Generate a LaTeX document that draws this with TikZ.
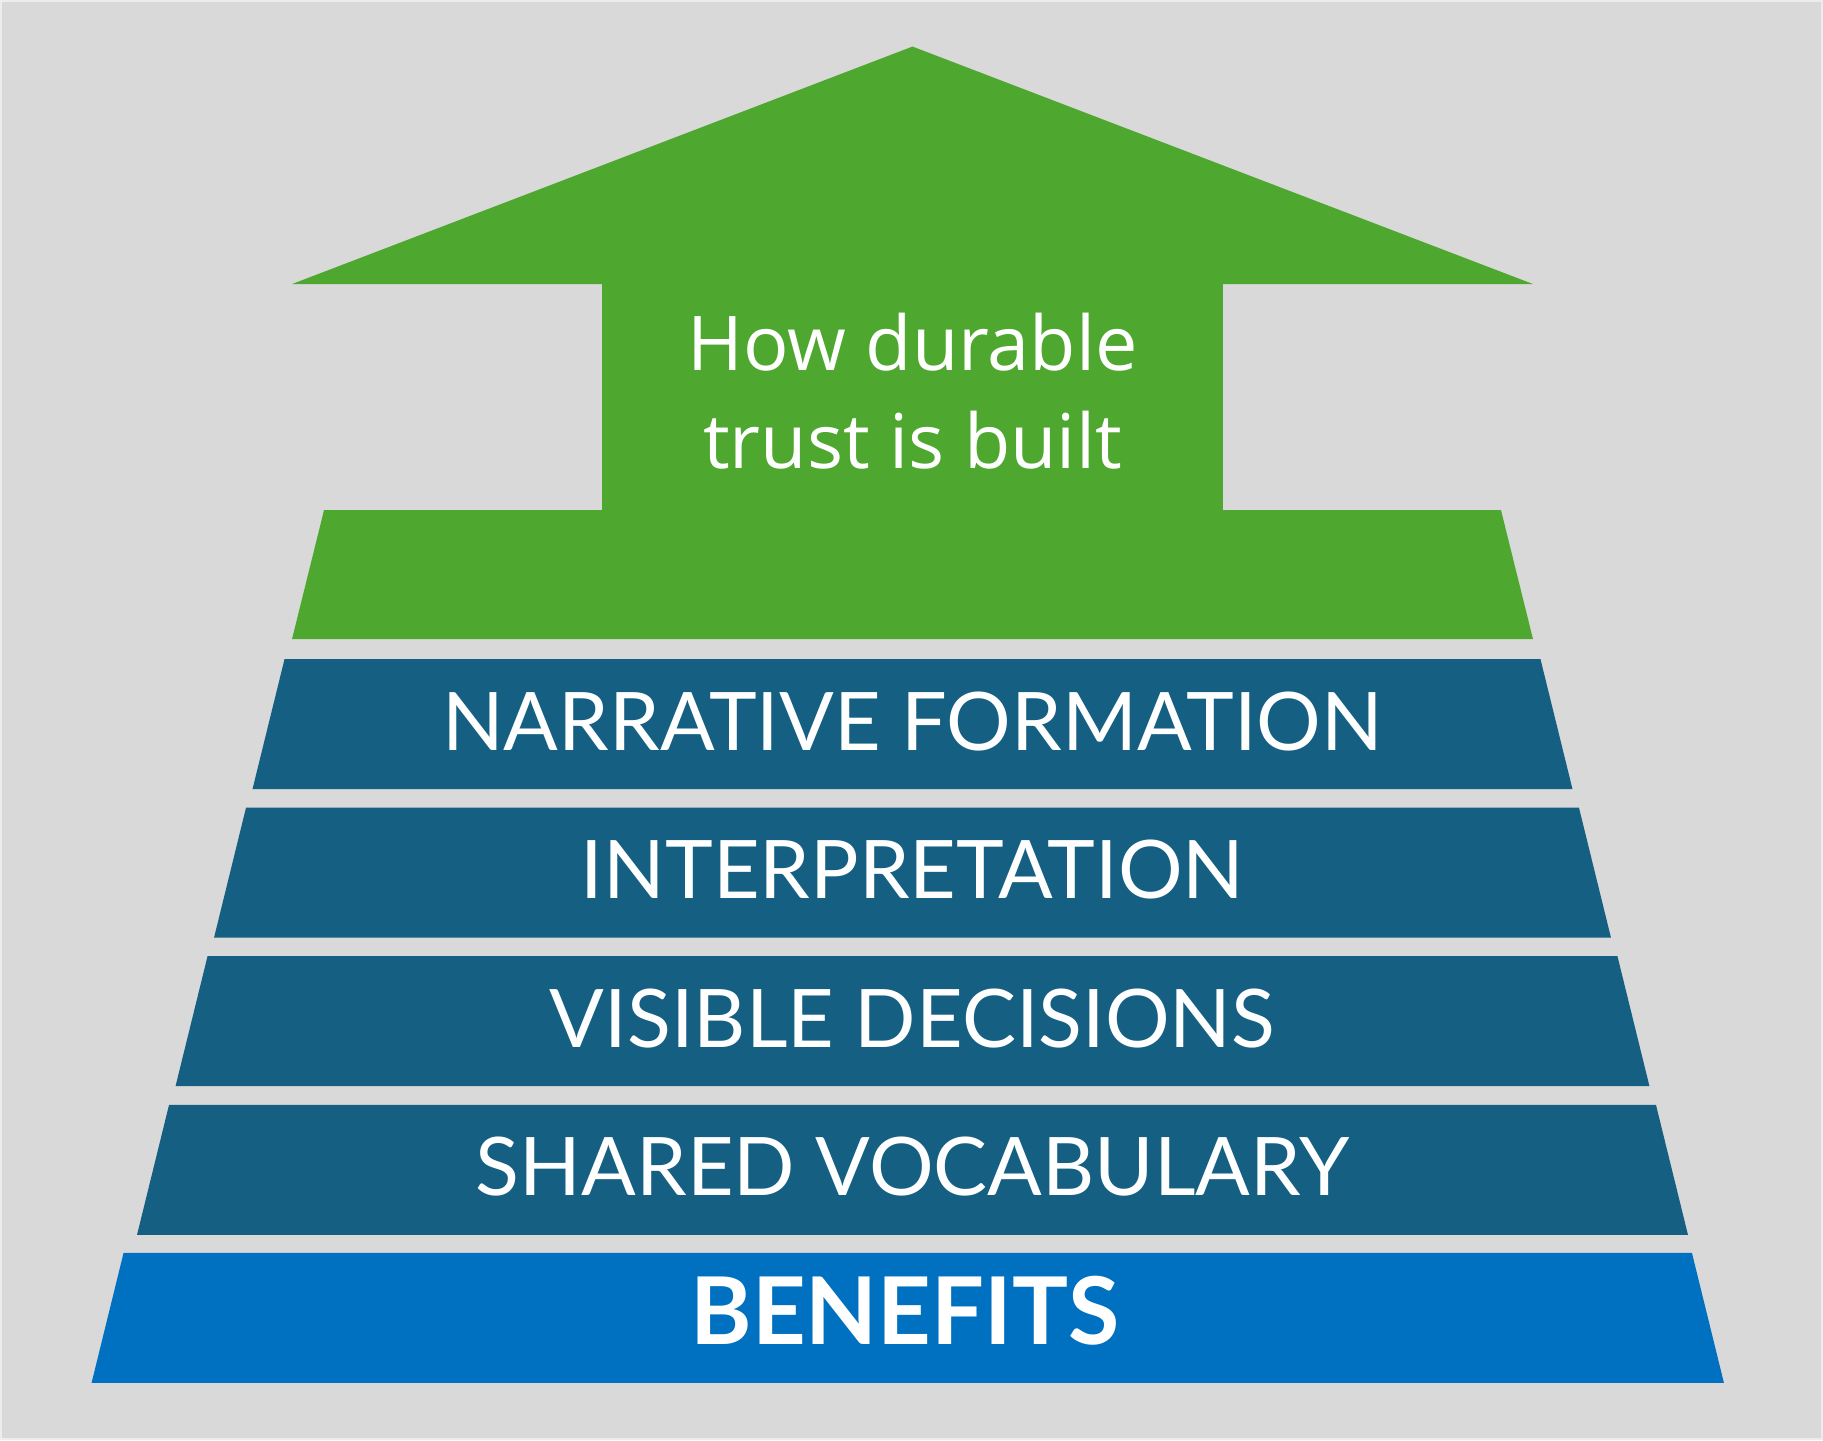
\documentclass[tikz,border=0pt]{standalone}
\usepackage{fontspec}
\usepackage{tikz}
\usetikzlibrary{positioning,calc}
\newfontfamily\bandfont{Lato}
\newfontfamily\arrowfont{Open Sans}
\definecolor{PageBG}{HTML}{D9D9D9}
\definecolor{PageEdge}{HTML}{EDEDED}
\definecolor{TrustGreen}{HTML}{4EA72E}
\definecolor{LayerTeal}{HTML}{156082}
\definecolor{BaseBlue}{HTML}{0070C0}

\begin{document}
\begin{tikzpicture}[
    layertext/.style={anchor=base,inner sep=0pt,text=white,font=\bandfont\fontsize{23}{27}\selectfont},
    arrowtext/.style={anchor=base,inner sep=0pt,text=white,font=\arrowfont\fontsize{21.5}{26}\selectfont}
  ]
  \draw[PageEdge,fill=PageBG,line width=0.6pt] (0.01,-0.01) rectangle (18.22,-14.39);
  \useasboundingbox (0,0) rectangle (18.23,-14.40);
  % arrow and its base
  \fill[TrustGreen] (9.125,-0.465) -- (15.33,-2.84) -- (12.23,-2.84) -- (12.23,-5.10)
    -- (15.01,-5.10) -- (15.33,-6.39) -- (2.92,-6.39) -- (3.24,-5.10) -- (6.02,-5.10)
    -- (6.02,-2.84) -- (2.92,-2.84) -- cycle;
  \node[arrowtext] (howline) at (9.125,-3.707) {How durable};
  \node[arrowtext] (trustline) at (9.125,-4.68) {trust is built};
  % layers
  \foreach \i/\txt in {1/NARRATIVE FORMATION,2/INTERPRETATION,3/VISIBLE DECISIONS,4/SHARED VOCABULARY} {
    \pgfmathsetmacro{\ytop}{-6.59-1.486*(\i-1)}
    \pgfmathsetmacro{\wtop}{6.28+0.385*(\i-1)}
    \fill[LayerTeal] (9.125-\wtop,\ytop) -- (9.125+\wtop,\ytop) -- (9.125+\wtop+0.32,\ytop-1.30)
      -- (9.125-\wtop-0.32,\ytop-1.30) -- cycle;
    \node[layertext] (layer\i) at (9.125,\ytop-0.91) {\txt};
  }
  \fill[BaseBlue] (1.235,-12.53) -- (16.92,-12.53) -- (17.24,-13.83) -- (0.915,-13.83) -- cycle;
  \node[layertext,font=\bandfont\bfseries\fontsize{26.6}{30}\selectfont] (benefits) at (9.05,-13.445) {BENEFITS};
\end{tikzpicture}
\end{document}
